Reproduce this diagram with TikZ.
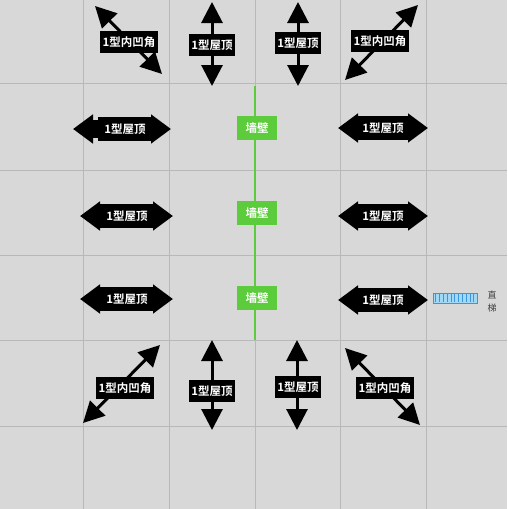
\documentclass[tikz,border=0pt]{standalone}
\usepackage{fontspec}
\newfontfamily\cjk{Noto Sans CJK SC}
\newfontfamily\cjkb{Noto Sans CJK SC Bold}
\usetikzlibrary{arrows.meta,calc}
\definecolor{bgc}{RGB}{216,216,216}
\definecolor{gridc}{RGB}{184,184,184}
\definecolor{wallg}{RGB}{92,204,60}
\definecolor{ladfill}{RGB}{160,216,245}
\definecolor{ladline}{RGB}{60,150,215}
\tikzset{
  lab/.style={fill=black, text=white, font=\cjkb\fontsize{11.5}{13}\selectfont, inner sep=2.5pt, minimum height=22pt},
  hlab/.style={lab, minimum width=54pt, minimum height=24pt},
  dbl/.style={line width=3pt, {Triangle[length=21pt,width=21pt]}-{Triangle[length=21pt,width=21pt]}},
  hdbl/.style={line width=18pt, {Triangle[length=20pt,width=28pt]}-{Triangle[length=20pt,width=28pt]}},
  wall/.style={fill=wallg, text=white, font=\cjkb\fontsize{11.5}{13}\selectfont, minimum width=40pt, minimum height=24pt, inner sep=1pt},
  gridline/.style={draw=gridc, line width=0.9pt}
}
\begin{document}
\begin{tikzpicture}[x=1pt,y=-1pt]
\fill[bgc] (0,0) rectangle (507,509);
\useasboundingbox (0,0) rectangle (507,509);
% grid
\foreach \v in {83,169,255,340,426} {\draw[gridline] (\v,0) -- (\v,509);}
\foreach \h in {83,170,255,340,426} {\draw[gridline] (0,\h) -- (507,\h);}
% wall
\coordinate (gtop) at (255,86);
\coordinate (gbot) at (255,340);
\draw[wallg, line width=1.6pt] (gtop) -- (gbot);
\node[wall] (w1) at (257,128) {墙壁};
\node[wall] (w2) at (257,213) {墙壁};
\node[wall] (w3) at (257,298) {墙壁};
% top row
\coordinate (a1s) at (95,6); \coordinate (a1e) at (162,74);
\draw[dbl] (a1s) -- (a1e); \node[lab] (l1) at (129,42) {1型内凹角};
\coordinate (a2s) at (212,2); \coordinate (a2e) at (212,86);
\draw[dbl] (a2s) -- (a2e); \node[lab] (l2) at (212,45) {1型屋顶};
\coordinate (a3s) at (298,2); \coordinate (a3e) at (298,86);
\draw[dbl] (a3s) -- (a3e); \node[lab] (l3) at (298,43) {1型屋顶};
\coordinate (a4s) at (418,5); \coordinate (a4e) at (345,80);
\draw[dbl] (a4s) -- (a4e); \node[lab] (l4) at (380,41) {1型内凹角};
% middle rows left
\coordinate (m1s) at (73,129); \coordinate (m1e) at (171,129);
\draw[hdbl] (m1s) -- (m1e); \node[hlab] (ml1) at (125,129) {1型屋顶};
\coordinate (m2s) at (80,216); \coordinate (m2e) at (173,216);
\draw[hdbl] (m2s) -- (m2e); \node[hlab] (ml2) at (127,216) {1型屋顶};
\coordinate (m3s) at (80,299); \coordinate (m3e) at (173,299);
\draw[hdbl] (m3s) -- (m3e); \node[hlab] (ml3) at (127,299) {1型屋顶};
% middle rows right
\coordinate (r1s) at (338,128); \coordinate (r1e) at (428,128);
\draw[hdbl] (r1s) -- (r1e); \node[hlab] (mr1) at (383,128) {1型屋顶};
\coordinate (r2s) at (338,216); \coordinate (r2e) at (428,216);
\draw[hdbl] (r2s) -- (r2e); \node[hlab] (mr2) at (383,216) {1型屋顶};
\coordinate (r3s) at (338,300); \coordinate (r3e) at (428,300);
\draw[hdbl] (r3s) -- (r3e); \node[hlab] (mr3) at (383,300) {1型屋顶};
% ladder
\node[draw=ladline, fill=ladfill, line width=0.8pt, minimum width=44pt, minimum height=10pt, inner sep=0pt] (lad) at (455,298) {};
\foreach \k in {0,...,10} {\draw[ladline, line width=0.6pt] ($(lad.north west)+(3+\k*3.8,1.5)$) -- ($(lad.south west)+(3+\k*3.8,-1.5)$);}
\node[font=\cjk\fontsize{9}{10}\selectfont, text=black!75, align=center, inner sep=0pt] (ladt) at (492,302) {直\\[3pt]梯};
% bottom row
\coordinate (b1s) at (83,423); \coordinate (b1e) at (160,345);
\draw[dbl] (b1s) -- (b1e); \node[lab] (bl1) at (125,388) {1型内凹角};
\coordinate (b2s) at (212,340); \coordinate (b2e) at (212,430);
\draw[dbl] (b2s) -- (b2e); \node[lab] (bl2) at (212,391) {1型屋顶};
\coordinate (b3s) at (297,340); \coordinate (b3e) at (297,430);
\draw[dbl] (b3s) -- (b3e); \node[lab] (bl3) at (298,387) {1型屋顶};
\coordinate (b4s) at (345,348); \coordinate (b4e) at (420,425);
\draw[dbl] (b4s) -- (b4e); \node[lab] (bl4) at (385,388) {1型内凹角};
\end{tikzpicture}
\end{document}
